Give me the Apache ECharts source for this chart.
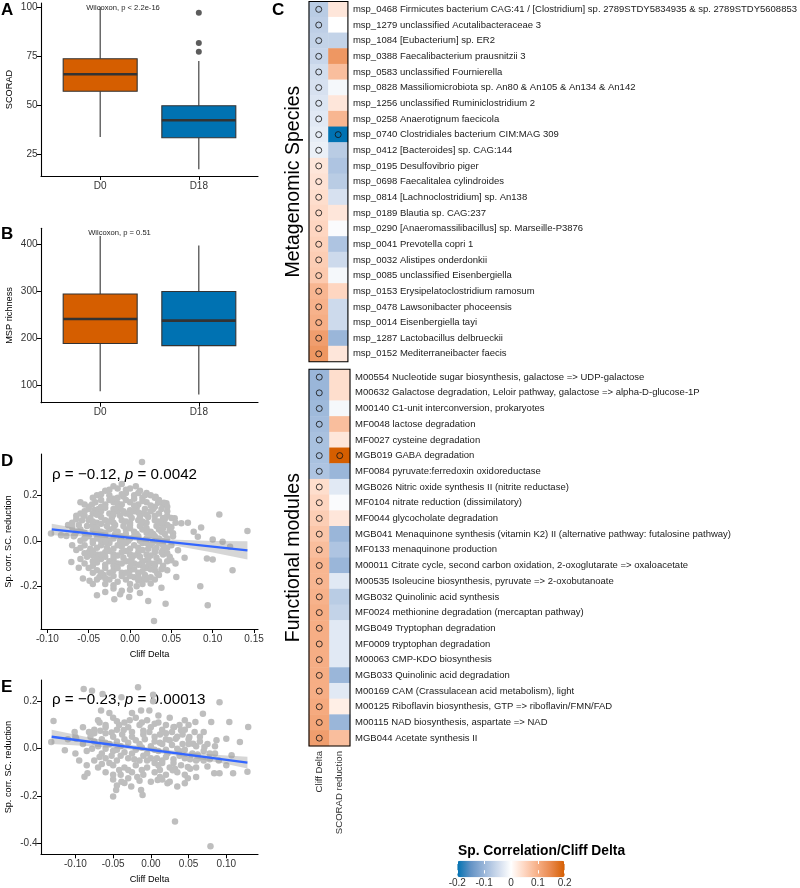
<!DOCTYPE html>
<html><head><meta charset="utf-8">
<script src="https://cdn.jsdelivr.net/npm/echarts@6/dist/echarts.min.js"></script>
<style>html,body{margin:0;padding:0;background:#fff}#c{width:800px;height:888px}</style>
</head><body><div id="c"></div>
<script>
// ---------- DATA ----------
const groups = ['D0', 'D18'];
// [low whisker, Q1, median, Q3, high whisker]
const scoradStats = [[33.7, 57, 65.7, 73.6, 100], [17.3, 33.3, 42.2, 49.6, 72.4]];
const scoradOutliers = [[2, 97], [2, 81.6], [2, 77.2]];
const mspStats = [[86.6, 188, 240.4, 293.6, 417], [79.6, 183.6, 236.8, 299, 397]];
const wilcoxA = 'Wilcoxon, p < 2.2e-16';
const wilcoxB = 'Wilcoxon, p = 0.51';

const scoradTicks = [25, 50, 75, 100];
const mspTicks = [100, 200, 300, 400];
const dXTicks = [-0.10, -0.05, 0.00, 0.05, 0.10, 0.15];
const dYTicks = [-0.2, 0.0, 0.2];
const eXTicks = [-0.10, -0.05, 0.00, 0.05, 0.10];
const eYTicks = [-0.4, -0.2, 0.0, 0.2];

const pointsD = [
[0.0145,0.347],[-0.0956,0.032],[-0.0835,0.025],[-0.077,0.021],[-0.067,0.025],[-0.055,0.010],[-0.056,0.113],[-0.043,0.136],
[-0.071,-0.093],[-0.062,-0.119],[-0.057,-0.166],[-0.049,-0.176],[-0.037,-0.159],[-0.019,-0.257],[-0.012,-0.235],[-0.001,-0.247],
[0.022,-0.265],[0.029,-0.353],[0.043,-0.277],[0.038,-0.206],[0.025,-0.188],[0.056,-0.159],[0.066,-0.074],[0.062,0.077],
[0.070,0.080],[0.077,0.040],[0.086,0.059],[0.100,0.006],[0.108,0.116],[0.112,-0.004],[0.121,-0.026],[0.093,-0.078],
[0.100,-0.082],[0.085,-0.200],[0.094,-0.284],[0.124,-0.129],[0.142,0.043],[0.082,0.018],[0.044,0.165],[0.041,0.168],
[0.031,0.194],[0.048,0.062],[0.054,0.099],[0.052,0.033],[0.058,-0.041],[0.050,-0.085],[0.033,-0.144],
[-0.02,0.24],[-0.01,0.25],[0.0,0.23],[0.012,0.22],[-0.03,0.22],[0.02,0.21],
[-0.04,0.2],[-0.025,0.2],[-0.015,0.19],[-0.005,0.21],[0.005,0.2],[0.015,0.19],[0.025,0.2],[0.035,0.18],[-0.035,0.18],
[-0.05,0.15],[-0.042,0.17],[-0.03,0.16],[-0.02,0.17],[-0.01,0.16],[0.0,0.17],[0.01,0.16],[0.02,0.17],[0.03,0.15],[0.04,0.16],[-0.06,0.12],[-0.065,0.11],
[-0.055,0.13],[-0.045,0.12],[-0.035,0.13],[-0.025,0.12],[-0.015,0.13],[-0.005,0.12],[0.005,0.13],[0.015,0.12],[0.025,0.13],[0.035,0.12],[0.045,0.11],[0.05,0.1],
[-0.07,0.08],[-0.05,0.09],[-0.04,0.08],[-0.03,0.09],[-0.02,0.08],[-0.01,0.09],[0.0,0.08],[0.01,0.09],[0.02,0.08],[0.03,0.09],[0.04,0.08],[0.045,0.07],[-0.075,0.07],
[-0.06,0.05],[-0.045,0.05],[-0.035,0.04],[-0.025,0.05],[-0.015,0.04],[-0.005,0.05],[0.005,0.04],[0.015,0.05],[0.025,0.04],[0.035,0.05],[0.042,0.03],
[-0.05,0.02],[-0.04,0.01],[-0.03,0.02],[-0.02,0.01],[-0.01,0.02],[0.0,0.01],[0.01,0.02],[0.02,0.01],[0.03,0.02],[0.04,0.0],
[-0.055,-0.02],[-0.045,-0.01],[-0.035,-0.02],[-0.025,-0.01],[-0.015,-0.02],[-0.005,-0.01],[0.005,-0.02],[0.015,-0.01],[0.025,-0.02],[0.035,-0.01],[0.045,-0.03],
[-0.065,-0.04],[-0.05,-0.05],[-0.04,-0.06],[-0.03,-0.05],[-0.02,-0.06],[-0.01,-0.05],[0.0,-0.06],[0.01,-0.05],[0.02,-0.06],[0.03,-0.05],[0.04,-0.06],
[-0.06,-0.08],[-0.045,-0.09],[-0.035,-0.08],[-0.025,-0.09],[-0.015,-0.1],[-0.005,-0.09],[0.005,-0.1],[0.015,-0.09],[0.025,-0.1],[0.035,-0.09],[0.04,-0.11],
[-0.04,-0.13],[-0.03,-0.12],[-0.02,-0.13],[-0.01,-0.14],[0.0,-0.13],[0.01,-0.14],[0.02,-0.12],[0.03,-0.13],[0.035,-0.15],
[-0.025,-0.17],[-0.015,-0.18],[-0.005,-0.17],[0.005,-0.16],[0.015,-0.17],[0.025,-0.16],
[-0.02,-0.21],[-0.01,-0.22],[0.008,-0.2],
[-0.038,0.14],[-0.012,0.145],[0.008,0.145],[0.028,0.14],[-0.048,0.1],[-0.022,0.1],[0.002,0.1],[0.022,0.105],[0.042,0.095],
[-0.052,0.065],[-0.028,0.065],[-0.008,0.065],[0.012,0.065],[0.032,0.065],[-0.042,0.035],[-0.018,0.03],[0.008,0.03],[0.028,0.03],
[-0.06,0.0],[-0.035,0.0],[-0.012,0.0],[0.012,0.0],[0.028,-0.005],[-0.048,-0.035],[-0.02,-0.035],[0.0,-0.035],[0.022,-0.035],[0.04,-0.04],
[-0.052,-0.07],[-0.03,-0.07],[-0.008,-0.075],[0.012,-0.07],[0.032,-0.075],[-0.045,-0.11],[-0.02,-0.11],[0.0,-0.115],[0.022,-0.11],
[-0.032,-0.15],[0.0,-0.155],[0.018,-0.15],[-0.005,0.225],[0.005,0.185],[-0.02,0.185],[0.045,0.13],[-0.058,0.09],[0.05,0.06],
[0.052,0.02],[0.05,-0.02],[0.048,-0.07],[-0.068,0.02],[-0.07,-0.02],[0.055,-0.1],[0.045,-0.13],[-0.05,-0.12],[-0.055,0.16],[-0.06,0.17],
[-0.015,0.23],[0.007,0.24],[-0.025,0.225],
[-0.035,0.205],[-0.008,0.195],[0.018,0.2],[0.03,0.19],[-0.045,0.19],
[-0.046,0.16],[-0.025,0.18],[-0.005,0.18],[0.015,0.175],[0.034,0.168],[0.045,0.15],[-0.015,0.165],
[-0.05,0.14],[-0.03,0.145],[-0.02,0.14],[0.0,0.135],[0.018,0.14],[0.038,0.14],[-0.008,0.13],[0.01,0.125],
[-0.055,0.11],[-0.035,0.105],[-0.012,0.11],[0.012,0.105],[0.03,0.11],[0.04,0.1],[-0.065,0.095],
[-0.062,0.07],[-0.045,0.07],[-0.035,0.075],[-0.018,0.07],[0.0,0.07],[0.018,0.075],[0.038,0.075],[-0.07,0.06],[0.055,0.08],
[-0.055,0.035],[-0.03,0.035],[-0.005,0.03],[0.02,0.035],[0.038,0.04],[0.048,0.045],[-0.065,0.04],
[-0.045,0.0],[-0.025,0.0],[-0.002,0.0],[0.018,0.0],[0.035,0.01],[0.045,0.01],[-0.055,0.01],
[-0.04,-0.03],[-0.028,-0.03],[-0.01,-0.025],[0.01,-0.03],[0.032,-0.03],[0.04,-0.02],[-0.06,-0.03],
[-0.055,-0.055],[-0.035,-0.06],[-0.015,-0.065],[0.005,-0.065],[0.025,-0.065],[0.038,-0.05],[0.045,-0.055],[-0.045,-0.065],
[-0.04,-0.095],[-0.02,-0.085],[0.0,-0.09],[0.02,-0.085],[0.03,-0.1],[-0.055,-0.1],[0.045,-0.09],
[-0.035,-0.14],[-0.015,-0.12],[0.005,-0.125],[0.025,-0.125],[0.038,-0.125],[-0.045,-0.14],[0.015,-0.11],
[-0.03,-0.165],[-0.01,-0.155],[0.01,-0.16],[0.02,-0.17],[-0.04,-0.17],[0.03,-0.17],
[-0.03,-0.19],[-0.02,-0.195],[0.0,-0.19],[0.015,-0.19],[-0.045,-0.19],
[-0.03,-0.225],[0.0,-0.215],[0.012,-0.23],[-0.04,-0.24],
[-0.035,0.15],[-0.015,0.15],[0.005,0.155],[0.025,0.155],[-0.04,0.115],[-0.02,0.115],[0.0,0.115],[0.02,0.115],
[-0.045,0.085],[-0.025,0.085],[-0.005,0.085],[0.015,0.085],[0.035,0.085],[-0.04,0.055],[-0.02,0.055],[0.0,0.055],
[0.02,0.055],[0.04,0.055],[-0.035,0.025],[-0.015,0.025],[0.005,0.02],[0.025,0.025],[-0.03,-0.005],[-0.008,-0.005],
[0.02,-0.01],[-0.045,-0.045],[-0.025,-0.045],[-0.005,-0.045],[0.015,-0.04],[0.03,-0.04],[-0.04,-0.08],[-0.02,-0.075],
[0.002,-0.078],[0.022,-0.078],[-0.03,-0.105],[-0.01,-0.1],[0.01,-0.105],[0.03,-0.11],[-0.025,-0.14],[-0.005,-0.14],
[0.015,-0.135],[-0.02,-0.155],[0.01,-0.175],[-0.01,0.205],[0.01,0.21]
];
const lineD = [[-0.0947, 0.050], [0.142, -0.042]];
const bandDX = [-0.0947, -0.05, 0.0, 0.05, 0.1, 0.142];
const bandDLow = [0.025, 0.019, 0.004, -0.018, -0.051, -0.082];
const bandDHigh = [0.075, 0.047, 0.022, 0.006, -0.001, -0.002];

const pointsE = [
[-0.089,0.251],[-0.078,0.244],[-0.066,0.161],[-0.064,0.230],[-0.039,0.216],[-0.017,0.258],[0.003,0.227],[0.003,0.20],
[-0.013,0.161],[-0.002,0.161],[0.069,0.147],[0.091,0.195],[0.059,0.112],[0.080,0.112],[0.104,0.112],[0.129,0.091],
[-0.129,0.116],[-0.132,0.028],[-0.114,-0.007],[-0.101,0.070],[-0.099,0.042],[-0.088,-0.118],[-0.084,-0.104],[-0.050,-0.202],
[-0.046,-0.174],[-0.039,-0.139],[-0.026,-0.160],[-0.013,-0.174],[-0.011,-0.195],[0.009,-0.132],[0.022,-0.146],[0.032,-0.307],
[0.035,-0.160],[0.045,-0.146],[0.049,-0.125],[0.079,-0.411],[0.084,-0.104],[0.091,-0.104],[0.109,-0.104],[0.128,-0.097],
[0.100,0.042],[0.118,0.028],[0.087,0.035],[0.107,-0.028],[0.100,-0.070],[0.071,0.007],[0.063,-0.042],[0.056,0.021],
[0.051,0.049],[0.040,0.077],[0.031,0.091],[0.033,0.042],[0.049,-0.077],[0.029,-0.091],
[-0.07,0.12],[-0.05,0.13],[-0.035,0.11],[-0.02,0.13],[-0.005,0.12],[0.01,0.11],[0.025,0.13],[-0.06,0.1],
[-0.075,0.08],[-0.06,0.09],[-0.045,0.08],[-0.03,0.09],[-0.015,0.1],[0.0,0.09],[0.015,0.08],[0.03,0.09],[0.045,0.08],[-0.09,0.09],
[-0.08,0.05],[-0.065,0.04],[-0.05,0.05],[-0.038,0.06],[-0.025,0.05],[-0.01,0.06],[0.005,0.05],[0.02,0.04],[0.035,0.05],[0.05,0.04],[0.065,0.05],[-0.1,0.05],[-0.11,0.04],
[-0.09,0.02],[-0.07,0.01],[-0.055,0.02],[-0.04,0.01],[-0.03,0.025],[-0.015,0.02],[0.0,0.01],[0.012,0.025],[0.028,0.015],[0.042,0.02],[0.06,0.01],[0.075,0.02],
[-0.085,-0.01],[-0.065,-0.02],[-0.05,-0.01],[-0.035,-0.015],[-0.02,-0.005],[-0.005,-0.02],[0.01,-0.01],[0.022,-0.02],[0.038,-0.01],[0.055,-0.02],[0.07,-0.01],[0.085,-0.02],
[-0.075,-0.05],[-0.06,-0.04],[-0.045,-0.05],[-0.03,-0.04],[-0.015,-0.05],[0.0,-0.04],[0.015,-0.05],[0.03,-0.045],[0.045,-0.04],[0.06,-0.05],[0.078,-0.045],[-0.095,-0.05],
[-0.07,-0.08],[-0.05,-0.07],[-0.035,-0.08],[-0.02,-0.07],[-0.005,-0.08],[0.01,-0.07],[0.025,-0.08],[0.04,-0.07],[0.052,-0.085],[-0.085,-0.07],
[-0.06,-0.1],[-0.04,-0.11],[-0.025,-0.1],[-0.01,-0.11],[0.005,-0.1],[0.02,-0.11],[0.035,-0.1],
[-0.05,-0.13],[-0.03,-0.125],[-0.015,-0.135],[0.0,-0.14],[0.015,-0.13],[0.06,-0.12],
[-0.042,0.1],[-0.01,0.075],[0.02,0.065],[-0.06,0.065],[-0.025,0.07],[0.005,0.03],[-0.045,0.03],[-0.02,0.035],[0.035,0.0],[-0.06,0.0],
[-0.01,-0.03],[0.02,-0.035],[-0.04,-0.03],[-0.055,-0.06],[0.005,-0.06],[0.03,-0.06],[-0.03,-0.09],[0.012,-0.09],[-0.075,0.065],[0.05,0.1],
[-0.025,0.15],[0.01,0.14],[-0.055,0.15],[-0.045,-0.155],[0.045,0.12],[0.07,0.07],[0.09,-0.05],[-0.1,-0.02],
[-0.068,0.11],[-0.045,0.115],[-0.028,0.12],[-0.012,0.11],[0.005,0.105],[0.02,0.1],[0.038,0.1],
[-0.082,0.07],[-0.067,0.075],[-0.052,0.068],[-0.036,0.078],[-0.002,0.07],[0.012,0.06],[0.028,0.07],[0.042,0.06],[0.058,0.07],
[-0.075,0.03],[-0.06,0.025],[-0.035,0.04],[-0.008,0.04],[0.015,0.02],[0.025,0.035],[0.05,0.02],[0.065,0.03],[0.085,0.01],
[-0.078,0.0],[-0.045,-0.005],[-0.025,-0.02],[-0.012,0.005],[0.005,-0.005],[0.02,-0.005],[0.045,-0.005],[0.062,-0.025],[0.078,-0.02],
[-0.068,-0.035],[-0.052,-0.03],[-0.022,-0.045],[-0.005,-0.05],[0.008,-0.04],[0.038,-0.03],[0.052,-0.045],[0.07,-0.05],
[-0.065,-0.065],[-0.042,-0.09],[-0.012,-0.09],[0.015,-0.06],[0.032,-0.085],[0.06,-0.08],[0.075,-0.075],
[-0.05,-0.11],[-0.018,-0.12],[0.012,-0.12],[0.045,-0.11],[-0.035,-0.145],[0.025,-0.14]
];
const lineE = [[-0.1315, 0.050], [0.128, -0.0586]];
const bandEX = [-0.1315, -0.08, -0.03, 0.0, 0.05, 0.1, 0.128];
const bandELow = [0.020, 0.010, -0.0025, -0.014, -0.036, -0.065, -0.084];
const bandEHigh = [0.080, 0.046, 0.0175, 0.004, -0.016, -0.029, -0.034];

const heatCols = ['Cliff Delta', 'SCORAD reduction'];
const speciesNames = [
'msp_0468 Firmicutes bacterium CAG:41 / [Clostridium] sp. 2789STDY5834935 & sp. 2789STDY5608853',
'msp_1279 unclassified Acutalibacteraceae 3',
'msp_1084 [Eubacterium] sp. ER2',
'msp_0388 Faecalibacterium prausnitzii 3',
'msp_0583 unclassified Fournierella',
'msp_0828 Massiliomicrobiota sp. An80 & An105 & An134 & An142',
'msp_1256 unclassified Ruminiclostridium 2',
'msp_0258 Anaerotignum faecicola',
'msp_0740 Clostridiales bacterium CIM:MAG 309',
'msp_0412 [Bacteroides] sp. CAG:144',
'msp_0195 Desulfovibrio piger',
'msp_0698 Faecalitalea cylindroides',
'msp_0814 [Lachnoclostridium] sp. An138',
'msp_0189 Blautia sp. CAG:237',
'msp_0290 [Anaeromassilibacillus] sp. Marseille-P3876',
'msp_0041 Prevotella copri 1',
'msp_0032 Alistipes onderdonkii',
'msp_0085 unclassified Eisenbergiella',
'msp_0153 Erysipelatoclostridium ramosum',
'msp_0478 Lawsonibacter phoceensis',
'msp_0014 Eisenbergiella tayi',
'msp_1287 Lactobacillus delbrueckii',
'msp_0152 Mediterraneibacter faecis'
];
const speciesCliff = [-0.07,-0.065,-0.06,-0.055,-0.045,-0.04,-0.035,-0.03,-0.025,-0.02,0.03,0.035,0.04,0.045,0.05,0.055,0.06,0.065,0.09,0.095,0.1,0.12,0.13];
const speciesScorad = [0.03,0.0,-0.06,0.13,0.08,-0.01,0.03,0.09,-0.2,-0.07,-0.08,-0.07,-0.04,0.03,-0.005,-0.08,-0.05,-0.01,0.05,-0.05,-0.05,-0.1,0.03];
const speciesSigScorad = [8];

const funcNames = [
'M00554 Nucleotide sugar biosynthesis, galactose => UDP-galactose',
'M00632 Galactose degradation, Leloir pathway, galactose => alpha-D-glucose-1P',
'M00140 C1-unit interconversion, prokaryotes',
'MF0048 lactose degradation',
'MF0027 cysteine degradation',
'MGB019 GABA degradation',
'MF0084 pyruvate:ferredoxin oxidoreductase',
'MGB026 Nitric oxide synthesis II (nitrite reductase)',
'MF0104 nitrate reduction (dissimilatory)',
'MF0044 glycocholate degradation',
'MGB041 Menaquinone synthesis (vitamin K2) II (alternative pathway: futalosine pathway)',
'MF0133 menaquinone production',
'M00011 Citrate cycle, second carbon oxidation, 2-oxoglutarate => oxaloacetate',
'M00535 Isoleucine biosynthesis, pyruvate => 2-oxobutanoate',
'MGB032 Quinolinic acid synthesis',
'MF0024 methionine degradation (mercaptan pathway)',
'MGB049 Tryptophan degradation',
'MF0009 tryptophan degradation',
'M00063 CMP-KDO biosynthesis',
'MGB033 Quinolinic acid degradation',
'M00169 CAM (Crassulacean acid metabolism), light',
'M00125 Riboflavin biosynthesis, GTP => riboflavin/FMN/FAD',
'M00115 NAD biosynthesis, aspartate => NAD',
'MGB044 Acetate synthesis II'
];
const funcCliff = [-0.1,-0.1,-0.095,-0.09,-0.085,-0.085,-0.08,0.04,0.05,0.06,0.07,0.08,0.09,0.09,0.095,0.1,0.1,0.1,0.1,0.1,0.1,0.105,0.11,0.12];
const funcScorad = [0.04,0.04,-0.01,0.08,0.03,0.2,-0.1,-0.03,-0.005,0.03,-0.1,-0.08,-0.1,-0.03,-0.07,-0.06,-0.03,-0.03,-0.03,-0.1,-0.03,0.02,-0.1,0.08];
const funcSigScorad = [5];

const legendTicks = [-0.2, -0.1, 0, 0.1, 0.2];
const legendTitle = 'Sp. Correlation/Cliff Delta';

// ---------- STYLE ----------
const FONT = 'Liberation Sans, Arial, Helvetica, sans-serif';
const TXT = '#333333';
const boxColors = ['#D55E00', '#0072B2'];
const heatColors = ['#0072B2','#6493c5','#9ab6d9','#cddaec','#ffffff','#fed6c1','#f6ae85','#e8874b','#D55E00'];

function valAxis(gi, min, max, ticks, fmt, name, gap, isX) {
  return {
    type: 'value', gridIndex: gi, min: min, max: max,
    name: name, nameLocation: 'middle', nameGap: gap,
    nameTextStyle: {fontFamily: FONT, fontSize: 9.2, color: '#000'},
    splitLine: {show: false},
    axisLine: {show: true, onZero: false, lineStyle: {color: '#000', width: 1.1}},
    axisTick: {show: true, length: 4, customValues: ticks, lineStyle: {color: '#000', width: 1}},
    axisLabel: {customValues: ticks, formatter: fmt, fontFamily: FONT, fontSize: 10, color: TXT, margin: isX ? 5 : 3.5},
    silent: true
  };
}

function boxRender(stats) {
  return function (params, api) {
    const i = params.dataIndex;
    const x = api.value(0);
    const s = stats[i];
    const hw = 0.375;
    const pLow = api.coord([x, s[0]]), pQ1 = api.coord([x, s[1]]), pMed = api.coord([x, s[2]]);
    const pQ3 = api.coord([x, s[3]]), pHigh = api.coord([x, s[4]]);
    const l = api.coord([x - hw, s[1]])[0], r = api.coord([x + hw, s[1]])[0];
    const st = {stroke: '#333', lineWidth: 1.1};
    return {type: 'group', children: [
      {type: 'line', shape: {x1: pLow[0], y1: pLow[1], x2: pQ1[0], y2: pQ1[1]}, style: st},
      {type: 'line', shape: {x1: pQ3[0], y1: pQ3[1], x2: pHigh[0], y2: pHigh[1]}, style: st},
      {type: 'rect', shape: {x: l, y: pQ3[1], width: r - l, height: pQ1[1] - pQ3[1]}, style: {fill: boxColors[i], stroke: '#333', lineWidth: 1.1}},
      {type: 'line', shape: {x1: l, y1: pMed[1], x2: r, y2: pMed[1]}, style: {stroke: '#333', lineWidth: 2.6}}
    ]};
  };
}

function bandRender(xs, lo, hi) {
  return function (params, api) {
    if (params.dataIndex !== 0) return null;
    const pts = [];
    for (let k = 0; k < xs.length; k++) pts.push(api.coord([xs[k], hi[k]]));
    for (let k = xs.length - 1; k >= 0; k--) pts.push(api.coord([xs[k], lo[k]]));
    return {type: 'polygon', shape: {points: pts}, style: {fill: 'rgba(153,153,153,0.4)'}};
  };
}

function borderRender(params) {
  if (params.dataIndex !== 0) return null;
  const cs = params.coordSys;
  return {type: 'rect', shape: {x: cs.x, y: cs.y, width: cs.width, height: cs.height}, style: {fill: null, stroke: '#000', lineWidth: 1.1}};
}

function heatData(a, b) {
  const d = [];
  a.forEach((v, r) => d.push([0, r, v]));
  b.forEach((v, r) => d.push([1, r, v]));
  return d;
}
function circleData(n, sig) {
  const d = [];
  for (let r = 0; r < n; r++) d.push([0, r]);
  sig.forEach(r => d.push([1, r]));
  return d;
}

const fmt2 = v => v.toFixed(2);
const fmt1 = v => v.toFixed(1);
const fmt0 = v => String(v);
const grpFmt = v => groups[Math.round(v) - 1];

const catX = (gi, showLabels) => ({
  type: 'category', gridIndex: gi, data: heatCols,
  axisLine: {show: false}, axisTick: {show: false}, splitLine: {show: false},
  axisLabel: {show: showLabels, interval: 0, rotate: 90, fontFamily: FONT, fontSize: 9.6, color: TXT, margin: 5}
});
const catYRight = (gi, names) => ({
  type: 'category', gridIndex: gi, data: names, inverse: true, position: 'right',
  axisLine: {show: false}, axisTick: {show: false}, splitLine: {show: false},
  axisLabel: {interval: 0, fontFamily: FONT, fontSize: 9.5, color: '#1a1a1a', margin: 5}
});
const catYLeft = (gi, names, title) => ({
  type: 'category', gridIndex: gi, data: names, inverse: true, position: 'left',
  axisLine: {show: false}, axisTick: {show: false}, splitLine: {show: false}, axisLabel: {show: false},
  name: title, nameLocation: 'middle', nameRotate: 90, nameGap: 5,
  nameTextStyle: {fontFamily: FONT, fontSize: 19.5, color: '#000'}
});

const chart = echarts.init(document.getElementById('c'), null, {renderer: 'canvas'});
chart.setOption({
  animation: false,
  backgroundColor: '#fff',
  textStyle: {fontFamily: FONT},
  grid: [
    {left: 41, top: 3, width: 217, height: 173},
    {left: 41, top: 228.3, width: 217, height: 174.4},
    {left: 41, top: 454, width: 217, height: 175},
    {left: 41, top: 680, width: 217, height: 174.3},
    {left: 309, top: 1.5, width: 41, height: 360.2},
    {left: 309, top: 369.3, width: 41, height: 376.7},
    {left: 457.3, top: 860.7, width: 107.4, height: 16.6}
  ],
  xAxis: [
    valAxis(0, 0.4, 2.6, [1, 2], grpFmt, '', 0, true),
    valAxis(1, 0.4, 2.6, [1, 2], grpFmt, '', 0, true),
    valAxis(2, -0.1077, 0.1548, dXTicks, fmt2, 'Cliff Delta', 21, true),
    valAxis(3, -0.1456, 0.142, eXTicks, fmt2, 'Cliff Delta', 21, true),
    catX(4, false),
    catX(5, true),
    {type: 'value', gridIndex: 6, min: -0.2, max: 0.2, z: 10, splitLine: {show: false}, axisLine: {show: false},
     axisTick: {show: true, inside: true, length: 3.3, customValues: legendTicks, lineStyle: {color: '#fff', width: 1}},
     axisLabel: {customValues: legendTicks, formatter: fmt0, fontFamily: FONT, fontSize: 10, color: TXT, margin: 4.5}},
    {type: 'value', gridIndex: 6, position: 'top', min: -0.2, max: 0.2, z: 10, splitLine: {show: false}, axisLine: {show: false},
     axisTick: {show: true, inside: true, length: 3.3, customValues: legendTicks, lineStyle: {color: '#fff', width: 1}},
     axisLabel: {show: false}}
  ],
  yAxis: [
    valAxis(0, 13.8, 102, scoradTicks, fmt0, 'SCORAD', 27),
    valAxis(1, 62, 433.5, mspTicks, fmt0, 'MSP richness', 27),
    valAxis(2, -0.388, 0.382, dYTicks, fmt1, 'Sp. corr. SC. reduction', 28),
    valAxis(3, -0.445, 0.289, eYTicks, fmt1, 'Sp. corr. SC. reduction', 28),
    catYRight(4, speciesNames),
    catYRight(5, funcNames),
    catYLeft(4, speciesNames, 'Metagenomic Species'),
    catYLeft(5, funcNames, 'Functional modules'),
    {type: 'value', gridIndex: 6, min: 0, max: 1, show: false}
  ],
  visualMap: {
    type: 'continuous', min: -0.2, max: 0.2, orient: 'horizontal',
    left: 457.3, top: 860.7, itemWidth: 16.6, itemHeight: 107.4, padding: 0,
    calculable: false, showLabel: false, text: null, seriesIndex: [9, 10],
    inRange: {color: heatColors}, hoverLink: false
  },
  series: [
    {type: 'custom', xAxisIndex: 0, yAxisIndex: 0, renderItem: boxRender(scoradStats),
     data: scoradStats.map((s, i) => [i + 1, s[0], s[4]]), encode: {x: 0, y: [1, 2]}, silent: true},
    {type: 'scatter', xAxisIndex: 0, yAxisIndex: 0, data: scoradOutliers, symbolSize: 6, itemStyle: {color: '#333'}, silent: true},
    {type: 'custom', xAxisIndex: 1, yAxisIndex: 1, renderItem: boxRender(mspStats),
     data: mspStats.map((s, i) => [i + 1, s[0], s[4]]), encode: {x: 0, y: [1, 2]}, silent: true},
    {type: 'scatter', xAxisIndex: 2, yAxisIndex: 2, data: pointsD, symbolSize: 6.5, itemStyle: {color: '#bebebe', opacity: 1}, z: 2, silent: true},
    {type: 'custom', xAxisIndex: 2, yAxisIndex: 2, renderItem: bandRender(bandDX, bandDLow, bandDHigh),
     data: bandDX.map((x, k) => [x, bandDLow[k], bandDHigh[k]]), encode: {x: 0, y: [1, 2]}, z: 3, silent: true},
    {type: 'line', xAxisIndex: 2, yAxisIndex: 2, data: lineD, symbol: 'none', lineStyle: {color: '#3366FF', width: 2.3}, z: 4, silent: true},
    {type: 'scatter', xAxisIndex: 3, yAxisIndex: 3, data: pointsE, symbolSize: 6.5, itemStyle: {color: '#bebebe', opacity: 1}, z: 2, silent: true},
    {type: 'custom', xAxisIndex: 3, yAxisIndex: 3, renderItem: bandRender(bandEX, bandELow, bandEHigh),
     data: bandEX.map((x, k) => [x, bandELow[k], bandEHigh[k]]), encode: {x: 0, y: [1, 2]}, z: 3, silent: true},
    {type: 'line', xAxisIndex: 3, yAxisIndex: 3, data: lineE, symbol: 'none', lineStyle: {color: '#3366FF', width: 2.3}, z: 4, silent: true},
    {type: 'heatmap', xAxisIndex: 4, yAxisIndex: 4, data: heatData(speciesCliff, speciesScorad), silent: true},
    {type: 'heatmap', xAxisIndex: 5, yAxisIndex: 5, data: heatData(funcCliff, funcScorad), silent: true},
    {type: 'scatter', xAxisIndex: 4, yAxisIndex: 4, data: circleData(speciesNames.length, speciesSigScorad), symbolSize: 6,
     itemStyle: {color: 'rgba(0,0,0,0)', borderColor: '#111', borderWidth: 1}, z: 5, silent: true},
    {type: 'scatter', xAxisIndex: 5, yAxisIndex: 5, data: circleData(funcNames.length, funcSigScorad), symbolSize: 6,
     itemStyle: {color: 'rgba(0,0,0,0)', borderColor: '#111', borderWidth: 1}, z: 5, silent: true},
    {type: 'custom', xAxisIndex: 4, yAxisIndex: 4, renderItem: borderRender, data: [[0, 0]], z: 6, silent: true},
    {type: 'custom', xAxisIndex: 5, yAxisIndex: 5, renderItem: borderRender, data: [[0, 0]], z: 6, silent: true}
  ],
  graphic: [
    {type: 'text', left: 1, top: 2, style: {text: 'A', font: 'bold 17px ' + FONT, fill: '#000'}},
    {type: 'text', left: 1, top: 226, style: {text: 'B', font: 'bold 17px ' + FONT, fill: '#000'}},
    {type: 'text', left: 272, top: 2, style: {text: 'C', font: 'bold 17px ' + FONT, fill: '#000'}},
    {type: 'text', left: 1, top: 453, style: {text: 'D', font: 'bold 17px ' + FONT, fill: '#000'}},
    {type: 'text', left: 1, top: 679, style: {text: 'E', font: 'bold 17px ' + FONT, fill: '#000'}},
    {type: 'text', x: 123, y: 8, style: {text: wilcoxA, font: '7.6px ' + FONT, fill: '#222', align: 'center', verticalAlign: 'middle'}},
    {type: 'text', x: 119.5, y: 233.3, style: {text: wilcoxB, font: '7.6px ' + FONT, fill: '#222', align: 'center', verticalAlign: 'middle'}},
    {type: 'text', x: 52, y: 475, style: {text: '{n|ρ = −0.12, }{i|p}{n| = 0.0042}', verticalAlign: 'middle',
      rich: {n: {fontFamily: FONT, fontSize: 15.2, fill: '#000'}, i: {fontFamily: FONT, fontSize: 15.2, fontStyle: 'italic', fill: '#000'}}}},
    {type: 'text', x: 52, y: 700, style: {text: '{n|ρ = −0.23, }{i|p}{n| = 0.00013}', verticalAlign: 'middle',
      rich: {n: {fontFamily: FONT, fontSize: 15.2, fill: '#000'}, i: {fontFamily: FONT, fontSize: 15.2, fontStyle: 'italic', fill: '#000'}}}},
    {type: 'text', x: 458, y: 851, style: {text: legendTitle, font: 'bold 13.8px ' + FONT, fill: '#000', verticalAlign: 'middle'}}
  ]
});
</script></body></html>
